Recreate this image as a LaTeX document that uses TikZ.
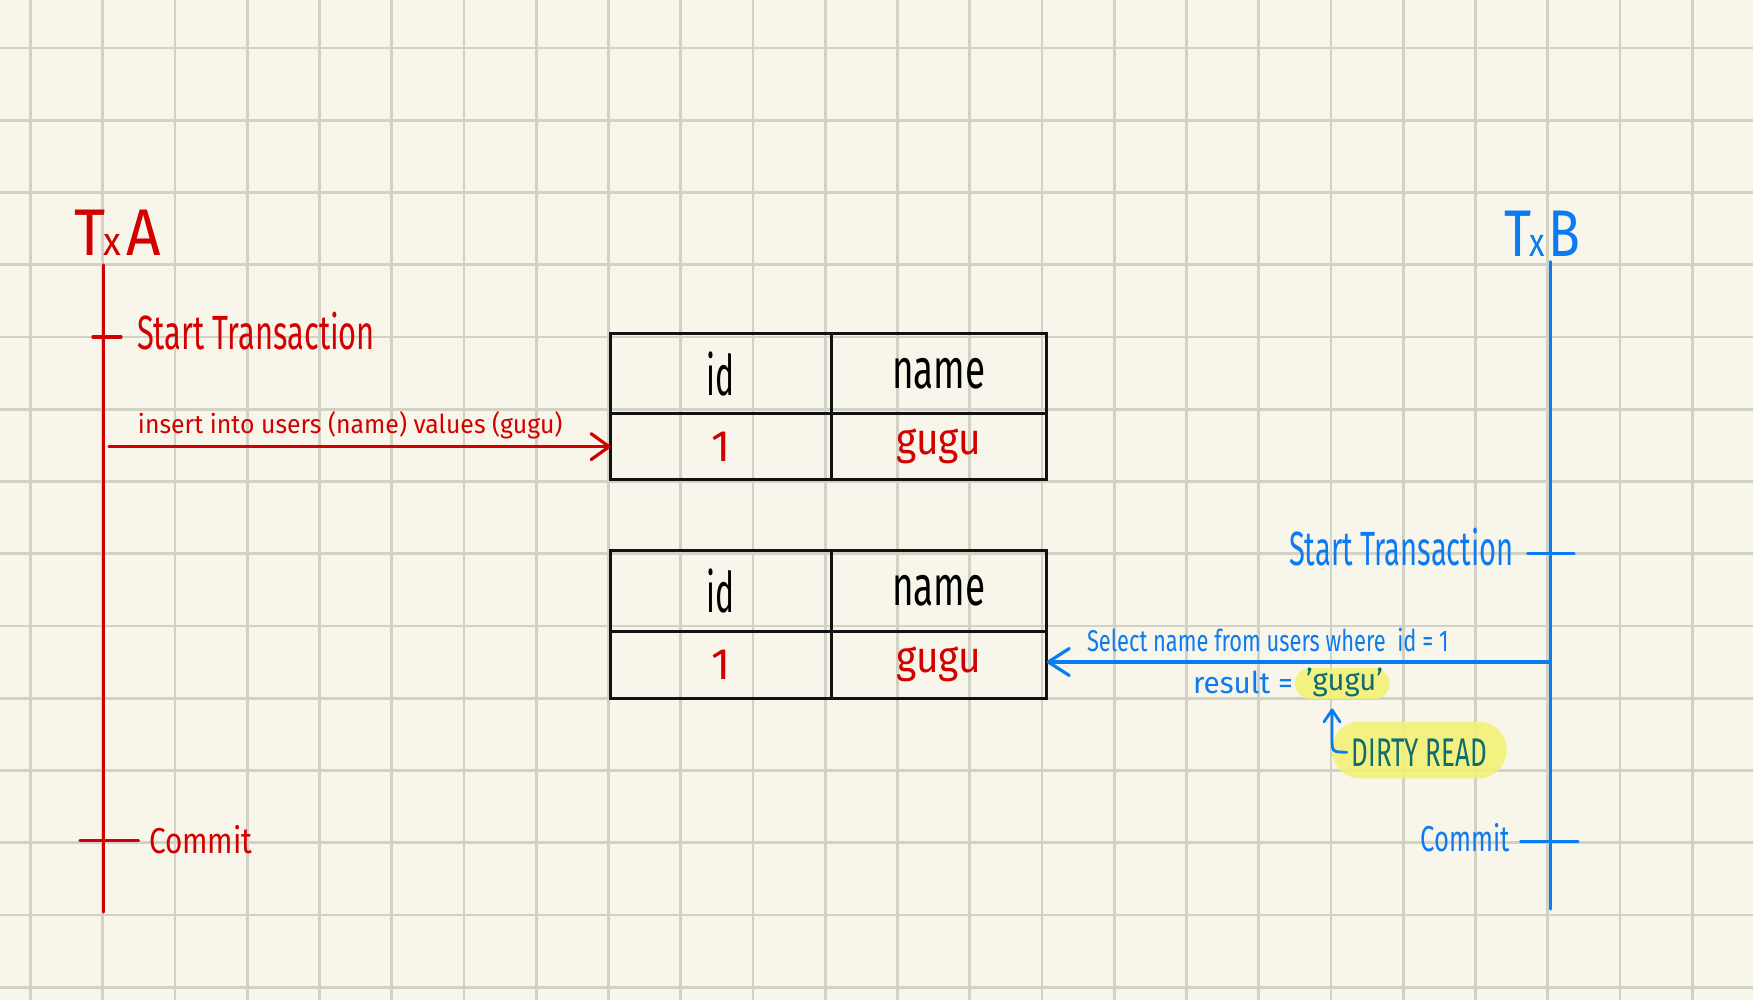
\documentclass[tikz,border=0pt]{standalone}
\usepackage{fontspec}
\setmainfont{Fira Sans}
\usepackage{graphicx}
\usetikzlibrary{arrows.meta}
\definecolor{paper}{HTML}{F8F6EA}
\definecolor{gridc}{HTML}{D1D1C4}
\definecolor{txred}{HTML}{D20000}
\definecolor{txblue}{HTML}{0B7BF3}
\definecolor{tealc}{HTML}{0F6D6D}
\definecolor{hilite}{HTML}{F4F172}
\newcommand\fitw[2]{\resizebox{#1}{\height}{#2}}
\begin{document}
\begin{tikzpicture}[x=0.5pt,y=-0.5pt,
  lbl/.style={inner sep=0pt, outer sep=0pt},
  fs/.style={font=\fontsize{#1}{#1}\selectfont},
  redline/.style={draw=txred, line width=1.6pt, line cap=round},
  blueline/.style={draw=txblue, line width=1.6pt, line cap=round},
  cell/.style={draw=black!93, line width=1.5pt, inner sep=0pt, outer sep=0pt},
  pill/.style={fill=hilite, fill opacity=0.85, draw=none},
  gridline/.style={draw=gridc, line width=1.3pt},
]
% background and grid
\fill[paper] (0,0) rectangle (1753,1000);
\useasboundingbox (0,0) rectangle (1753,1000);
\foreach \i in {0,...,23} \draw[gridline] ({30.5+72.25*\i},0) -- ({30.5+72.25*\i},1000);
\foreach \j in {0,...,13} \draw[gridline] (0,{48+72.25*\j}) -- (1753,{48+72.25*\j});

% highlights
\fill[pill, rounded corners=7.75pt] (1295,668) rectangle (1389.6,699);
\fill[pill, rounded corners=14pt] (1331.7,721.7) rectangle (1506.7,778.3);

% Tx A lifeline
\coordinate (aTop) at (103.5,265);
\coordinate (aBot) at (103.5,912);
\draw[redline] (aTop) -- (aBot);
\coordinate (aS1) at (93,337); \coordinate (aS2) at (121,337);
\draw[redline] (aS1) -- (aS2);
\coordinate (aC1) at (80,840.7); \coordinate (aC2) at (138.5,840.7);
\draw[redline] (aC1) -- (aC2);

\node[lbl, txred, fs=33, anchor=base west] (txa) at (74,256)
  {\fitw{43.5pt}{T\kern-1pt{\fontsize{20}{20}\selectfont x}\kern3pt A}};
\node[lbl, txred, fs=24, anchor=base west] (aStart) at (137,350)
  {\fitw{119pt}{Start Transaction}};
\node[lbl, txred, fs=13, anchor=base west] (aIns) at (138,434)
  {\fitw{212.25pt}{insert into users (name) values (gugu)}};
\node[lbl, txred, fs=18, anchor=base west] (aCommit) at (149,853)
  {\fitw{51.8pt}{Commit}};

% Tx B lifeline
\coordinate (bTop) at (1550.5,261.7);
\coordinate (bBot) at (1550.5,909);
\draw[blueline] (bTop) -- (bBot);
\coordinate (bS1) at (1527.7,553.3); \coordinate (bS2) at (1574,553.3);
\draw[blueline] (bS1) -- (bS2);
\coordinate (bC1) at (1520.7,841.7); \coordinate (bC2) at (1578,841.7);
\draw[blueline] (bC1) -- (bC2);

\node[lbl, txblue, fs=33, anchor=base west] (txb) at (1504,256.7)
  {\fitw{38pt}{T\kern-1pt{\fontsize{20}{20}\selectfont x}\kern2pt B}};
\node[lbl, txblue, fs=24, anchor=base east] (bStart) at (1513.6,566)
  {\fitw{112.3pt}{Start Transaction}};
\node[lbl, txblue, fs=15, anchor=base west] (bSelLbl) at (1087,652)
  {\fitw{180.75pt}{Select name from users where\ \ id = 1}};
\node[lbl, txblue, fs=15, anchor=base west] (bRes) at (1193,693)
  {\fitw{50pt}{result =}};
\node[lbl, tealc, fs=15, anchor=base west] (bGugu) at (1306,690)
  {\fitw{38.5pt}{'gugu'}};
\node[lbl, tealc, fs=20, anchor=base west] (dirty) at (1351.7,766)
  {\fitw{67.5pt}{DIRTY READ}};
\node[lbl, txblue, fs=18, anchor=base east] (bCommit) at (1510,851.7)
  {\fitw{44.65pt}{Commit}};

% table 1
\node[cell, minimum width=110.15pt, minimum height=39.65pt, fs=28] (t1a) at (720.85,373.65) {\fitw{14pt}{id}};
\node[cell, minimum width=107.85pt, minimum height=39.65pt, fs=28] (t1b) at (938.85,373.65) {\fitw{46.65pt}{name}\hspace{10.8pt}};
\node[cell, minimum width=110.15pt, minimum height=33.35pt, fs=22, text=txred] (t1c) at (720.85,446.65) {1};
\node[cell, minimum width=107.85pt, minimum height=33.35pt, fs=22, text=txred] (t1d) at (938.85,446.65) {\fitw{42.5pt}{gugu}};

% table 2
\node[cell, minimum width=110.15pt, minimum height=40.15pt, fs=28] (t2a) at (720.85,590.85) {\fitw{14pt}{id}};
\node[cell, minimum width=107.85pt, minimum height=40.15pt, fs=28] (t2b) at (938.85,590.85) {\fitw{46.65pt}{name}\hspace{10.8pt}};
\node[cell, minimum width=110.15pt, minimum height=33.65pt, fs=22, text=txred] (t2c) at (720.85,664.65) {1};
\node[cell, minimum width=107.85pt, minimum height=33.65pt, fs=22, text=txred] (t2d) at (938.85,664.65) {\fitw{42.5pt}{gugu}};

% connectors
\coordinate (aArr) at (109,446.65);
\draw[redline, -{Straight Barb[length=9pt,width=13pt,round]}] (aArr) -- (t1c.west);
\coordinate (bSel) at (1550.5,662);
\draw[blueline, -{Straight Barb[length=10.5pt,width=13.5pt,round]}] (bSel) -- (bSel -| t2d.east);
\coordinate (dTip) at (1332,708.5);
\coordinate (dBend) at (1332,738);
\draw[blueline, line width=1.4pt, -{Straight Barb[length=6pt,width=8pt,round]}]
  ([xshift=-2.5pt]dirty.west) .. controls (1332,752) .. (dBend) -- (dTip);
\end{tikzpicture}
\end{document}
